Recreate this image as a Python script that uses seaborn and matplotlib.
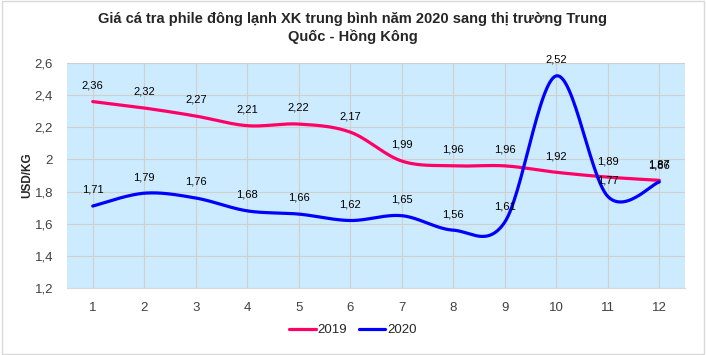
import numpy as np
import pandas as pd
import matplotlib
matplotlib.use("Agg")
import matplotlib.pyplot as plt
import seaborn as sns
from matplotlib.ticker import FuncFormatter, MultipleLocator

# data
months = list(range(1, 13))
price_2019 = [2.36, 2.32, 2.27, 2.21, 2.22, 2.17, 1.99, 1.96, 1.96, 1.92, 1.89, 1.87]
price_2020 = [1.71, 1.79, 1.76, 1.68, 1.66, 1.62, 1.65, 1.56, 1.61, 2.52, 1.77, 1.86]

COLORS = {"2019": "#FF0066", "2020": "#0000FF"}


def smooth_curve(x, y, n=30):
    """Excel-like smoothed line: cubic Bezier with Catmull-Rom control points."""
    x = np.asarray(x, float)
    y = np.asarray(y, float)
    px = np.concatenate([[x[0]], x, [x[-1]]])
    py = np.concatenate([[y[0]], y, [y[-1]]])
    xs, ys = [], []
    t = np.linspace(0, 1, n)
    for i in range(1, len(px) - 2):
        p0 = np.array([px[i], py[i]])
        p3 = np.array([px[i + 1], py[i + 1]])
        c1 = p0 + (np.array([px[i + 1], py[i + 1]]) - np.array([px[i - 1], py[i - 1]])) / 6
        c2 = p3 - (np.array([px[i + 2], py[i + 2]]) - np.array([px[i], py[i]])) / 6
        b = ((1 - t) ** 3)[:, None] * p0 + (3 * (1 - t) ** 2 * t)[:, None] * c1 \
            + (3 * (1 - t) * t ** 2)[:, None] * c2 + (t ** 3)[:, None] * p3
        xs.extend(b[:, 0])
        ys.extend(b[:, 1])
    return np.array(xs), np.array(ys)


def comma(v, pos=None):
    s = f"{v:.1f}".rstrip("0").rstrip(".")
    return s.replace(".", ",")


sns.set_style("white")
plt.rcParams["font.family"] = ["Liberation Sans", "DejaVu Sans"]

fig = plt.figure(figsize=(7.06, 3.55), dpi=100)
ax = fig.add_axes([0.0949, 0.1887, 0.8754, 0.6338])
ax.set_facecolor("#CCEBFF")

rows = []
for series, vals in (("2019", price_2019), ("2020", price_2020)):
    sx, sy = smooth_curve(months, vals)
    rows.append(pd.DataFrame({"x": sx, "y": sy, "year": series}))
curves = pd.concat(rows, ignore_index=True)

sns.lineplot(data=curves, x="x", y="y", hue="year", palette=COLORS, sort=False,
             estimator=None, linewidth=2.3, ax=ax, legend=True)

for series, vals in (("2019", price_2019), ("2020", price_2020)):
    for m, v in zip(months, vals):
        ax.annotate(f"{v:.2f}".replace(".", ","), (m, v), xytext=(0, 8),
                    textcoords="offset points", ha="center", va="bottom",
                    fontsize=8, color="#000000")

ax.set_xlim(0.5, 12.5)
ax.set_ylim(1.2, 2.6)
ax.yaxis.set_major_locator(MultipleLocator(0.2))
ax.yaxis.set_major_formatter(FuncFormatter(comma))
ax.set_xticks(months)
ax.grid(True, color="#D0D0D0", linewidth=0.8)
ax.set_axisbelow(True)
for side in ("top", "right", "left"):
    ax.spines[side].set_visible(False)
ax.spines["bottom"].set_color("#D9D9D9")
ax.tick_params(axis="both", length=0, labelsize=9.5, colors="#404040", pad=10)
ax.set_xlabel("")
ax.set_ylabel("USD/KG", fontsize=8.5, fontweight="bold", labelpad=1)

fig.suptitle("Giá cá tra phile đông lạnh XK trung bình năm 2020 sang thị trường Trung\nQuốc - Hồng Kông",
             y=0.965, fontsize=10.5, fontweight="bold", linespacing=1.25)

handles, labels = ax.get_legend_handles_labels()
ax.get_legend().remove()
fig.legend(handles, labels, loc="center", bbox_to_anchor=(0.5, 0.07), ncol=2, frameon=False,
           fontsize=9.5, handlelength=2.0, columnspacing=0.9, handletextpad=0.15)

fig.patches.append(plt.Rectangle((0.003, 0.003), 0.994, 0.994, transform=fig.transFigure,
                                 fill=False, edgecolor="#D9D9D9", linewidth=1))

fig.savefig("out.png", dpi=100)
